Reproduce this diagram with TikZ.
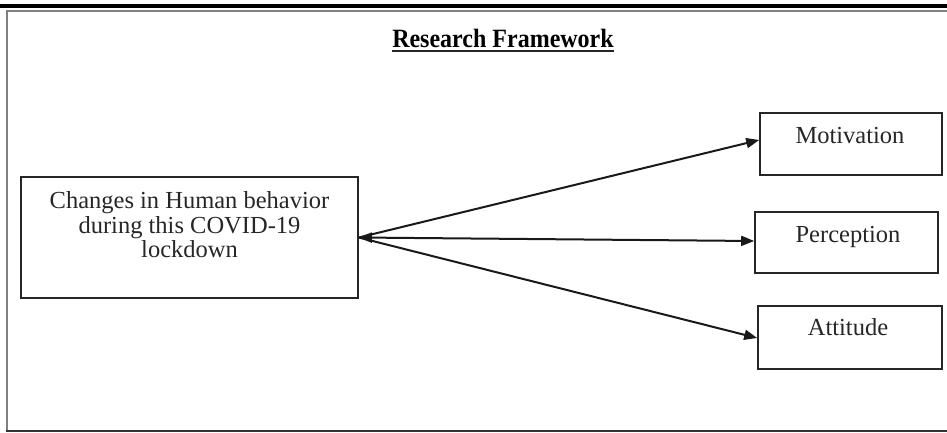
\documentclass[tikz,border=0pt]{standalone}
\usepackage{fontspec}
\setmainfont{Liberation Serif}
\usetikzlibrary{arrows.meta}
\tikzset{
  box/.style={draw=black!85, line width=1.6pt, rectangle, inner sep=0pt},
  txt/.style={inner sep=0pt, anchor=base, font=\fontsize{24.5}{25}\selectfont, text=black!85},
  tip/.tip={Triangle[length=13pt,width=10pt]},
  link/.style={line width=2pt, black!90, -tip},
}
\begin{document}
\begin{tikzpicture}[x=1pt,y=-1pt]
\useasboundingbox (0,0) rectangle (947,432);
% top rules and frame
\fill[black] (0,4) rectangle (947,8);
\draw[black!50, line width=2pt] (7,431) -- (7,11) -- (947,11);
\draw[black!80, line width=2pt] (6,431) -- (947,431);
% title
\node[inner sep=0pt, anchor=base, font=\fontsize{24}{25}\selectfont\bfseries, yscale=1.1] (title) at (503,47) {Research Framework};
\draw[black!85, line width=2.2pt] (title.south west |- 0,51) -- (title.south east |- 0,51);
% boxes
\node[box, minimum width=337pt, minimum height=121pt] (src) at (189.5,237.5) {};
\node[box, minimum width=182pt, minimum height=62pt] (mot) at (851,144) {};
\node[box, minimum width=183pt, minimum height=61pt] (per) at (846.5,242.5) {};
\node[box, minimum width=184pt, minimum height=63pt] (att) at (850,337.5) {};
% texts
\node[txt] (s1) at (189.5,208) {Changes in Human behavior};
\node[txt] (s2) at (189.5,233) {during this COVID-19};
\node[txt] (s3) at (189.5,257) {lockdown};
\node[txt] (tm) at (850,143) {Motivation};
\node[txt] (tp) at (848,242) {Perception};
\node[txt] (ta) at (848,335) {Attitude};
% connectors
\draw[link] (src.east) -- ([yshift=4pt]mot.west);
\draw[link, tip-tip] (src.east) -- ([yshift=1.5pt]per.west);
\draw[link] (src.east) -- ([yshift=-0.5pt]att.west);
\end{tikzpicture}
\end{document}
